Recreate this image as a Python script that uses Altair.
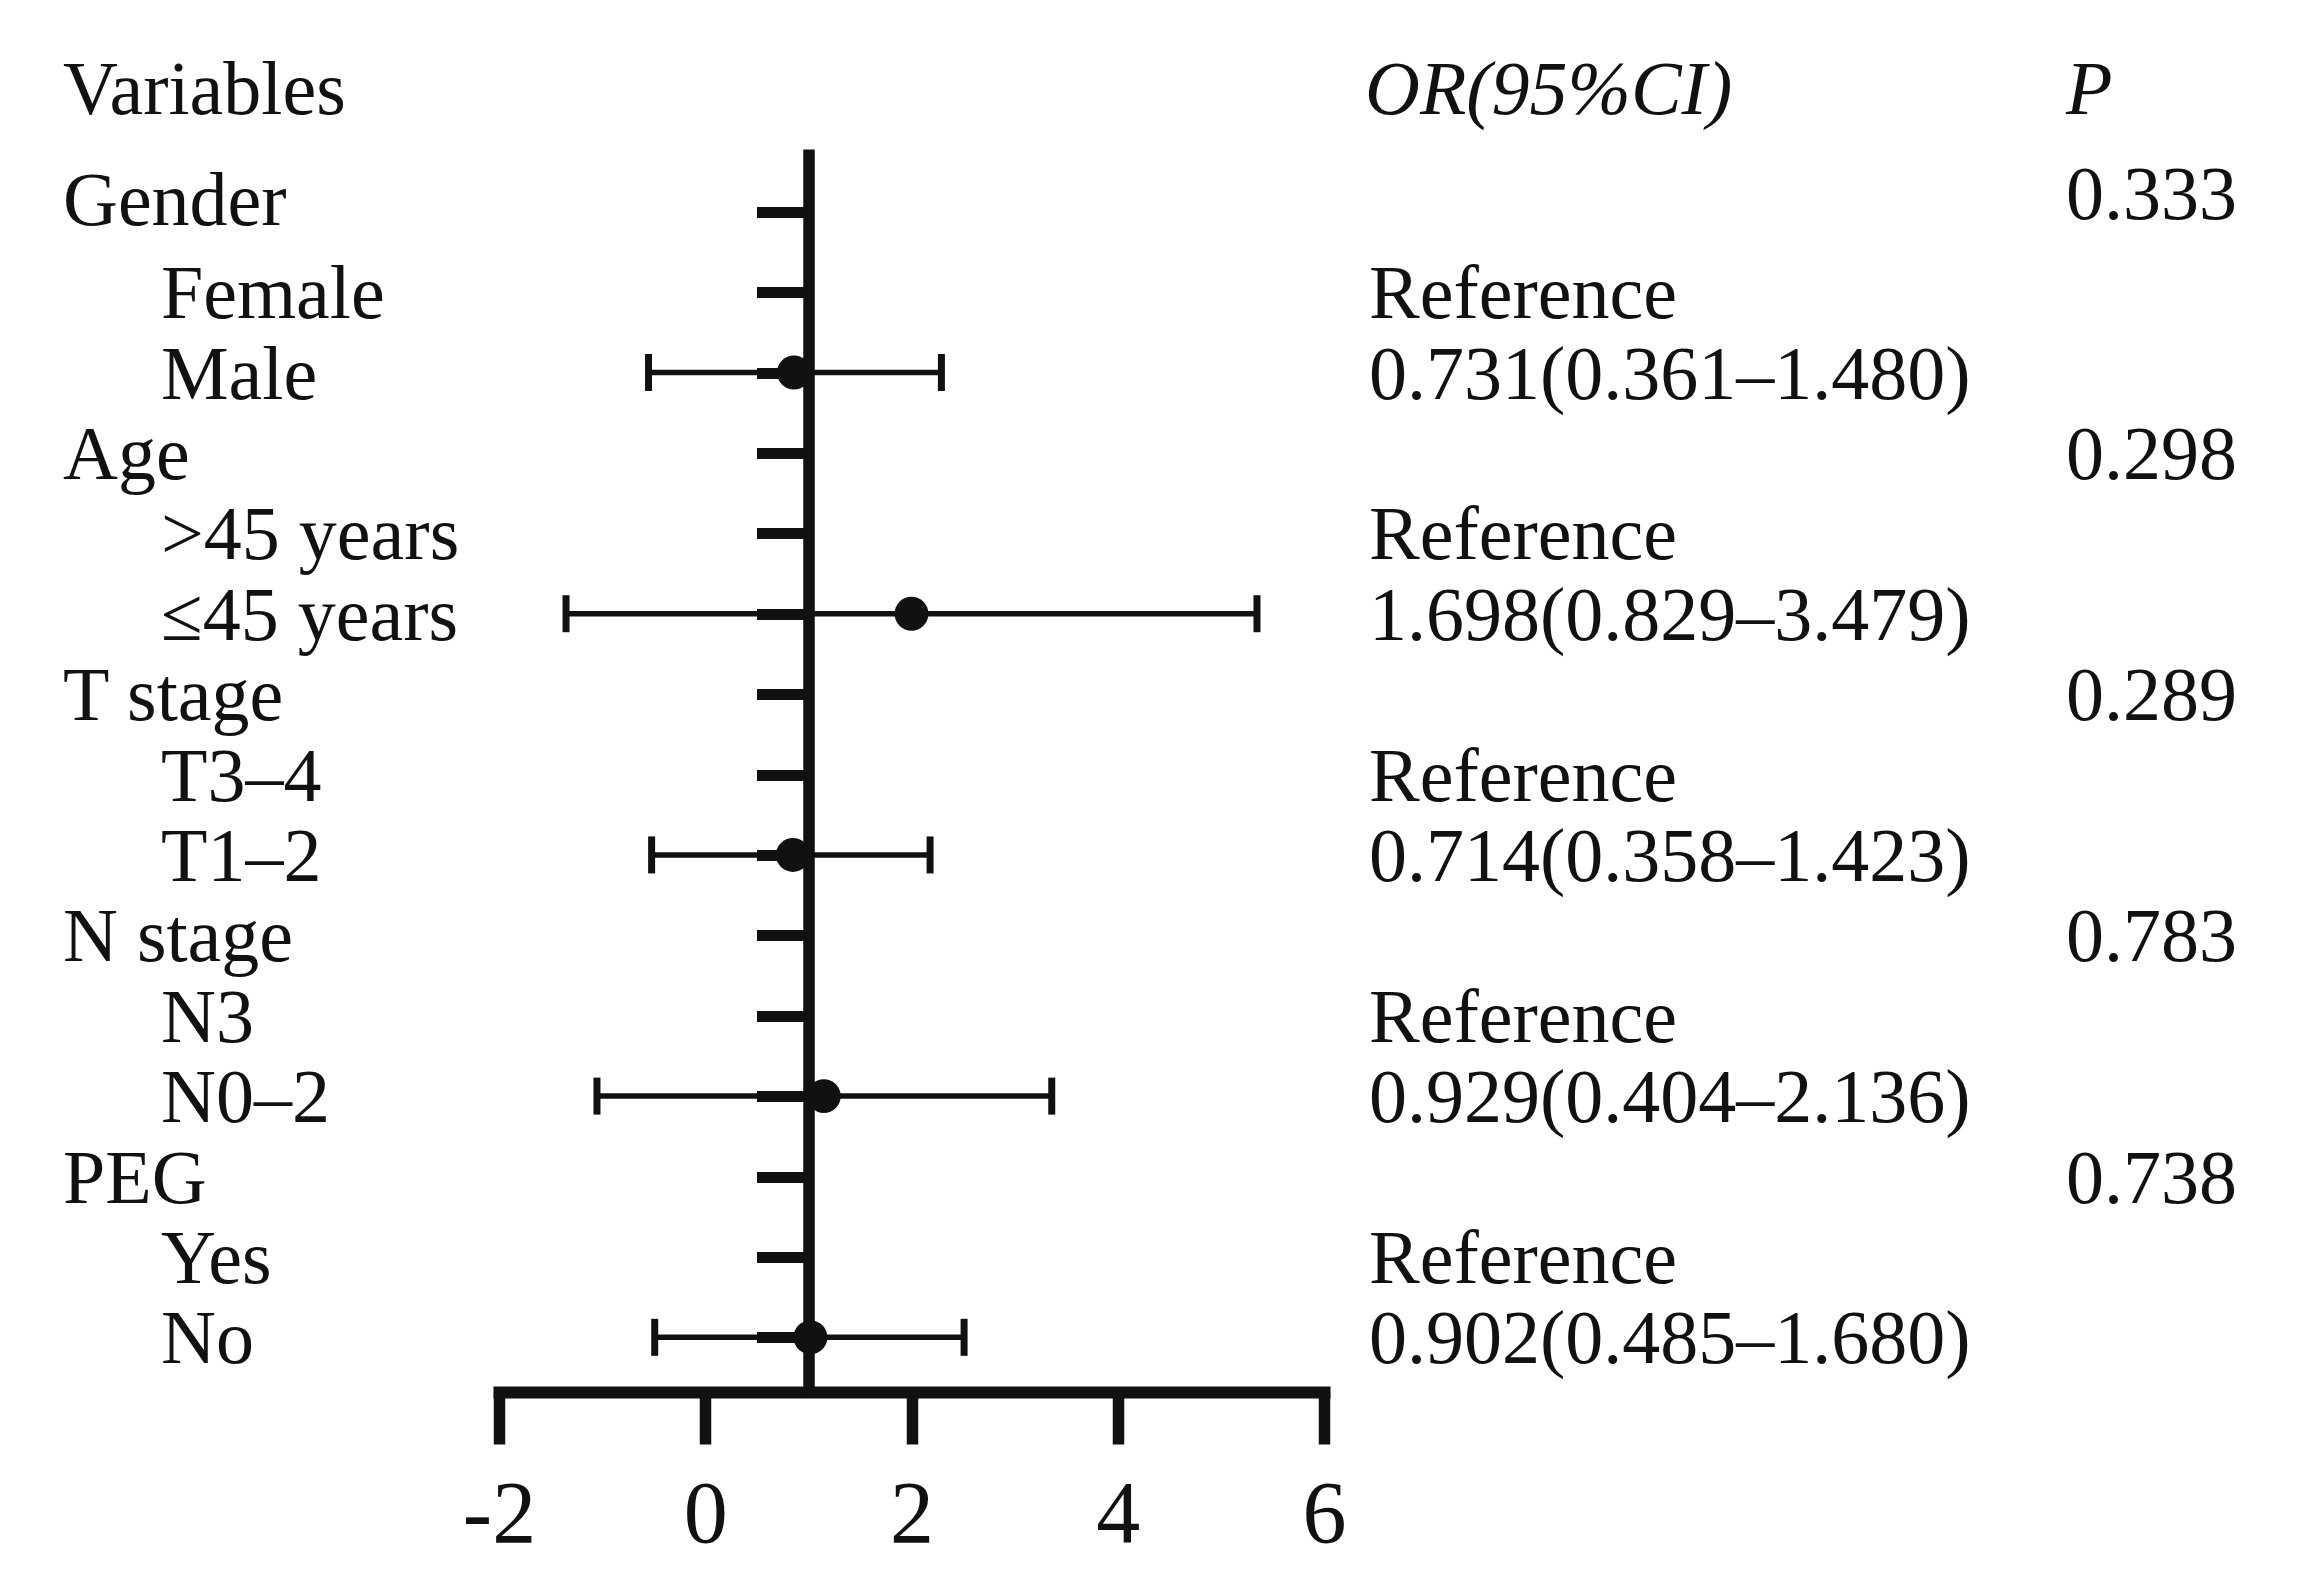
import altair as alt
import pandas as pd

# ---- data ----
labels = ["Gender", "Female", "Male", "Age", ">45 years", "\u226445 years",
          "T stage", "T3\u20134", "T1\u20132", "N stage", "N3", "N0\u20132",
          "PEG", "Yes", "No"]
indent = [0, 1, 1, 0, 1, 1, 0, 1, 1, 0, 1, 1, 0, 1, 1]
or_text = ["", "Reference", "0.731(0.361\u20131.480)",
           "", "Reference", "1.698(0.829\u20133.479)",
           "", "Reference", "0.714(0.358\u20131.423)",
           "", "Reference", "0.929(0.404\u20132.136)",
           "", "Reference", "0.902(0.485\u20131.680)"]
p_text = ["0.333", "", "", "0.298", "", "", "0.289", "", "",
          "0.783", "", "", "0.738", "", ""]

est_rows = [2, 5, 8, 11, 14]
est = [0.86, 2.00, 0.85, 1.15, 1.02]
low = [-0.55, -1.35, -0.52, -1.05, -0.49]
high = [2.29, 5.35, 2.18, 3.36, 2.51]

x_ticks = [-2, 0, 2, 4, 6]

rows = pd.DataFrame({
    "row": list(range(len(labels))),
    "label": labels,
    "indent": indent,
    "or_text": or_text,
    "p_text": p_text,
})
pts = pd.DataFrame({"row": est_rows, "est": est, "low": low, "high": high})

FONT = "Liberation Serif"
INK = "#111111"
FS = 76

xscale = alt.Scale(domain=[-2, 6], nice=False, zero=False)
yscale = alt.Scale(domain=[-0.78, 14.68], nice=False, zero=False, reverse=True)

x_axis = alt.Axis(values=x_ticks, grid=False, title=None,
                  domainWidth=12, domainColor=INK, domainCap="square",
                  tickColor=INK, tickWidth=11.5, tickSize=52,
                  labelFont=FONT, labelFontSize=88, labelColor=INK,
                  labelFlush=False, labelOverlap=False,
                  labelPadding=27, labelExpr="'' + datum.value")
y_axis = alt.Axis(values=list(range(len(labels))), grid=False, title=None,
                  labels=False, domainWidth=11.5, domainColor=INK,
                  tickColor=INK, tickWidth=11, tickSize=52, offset=-309.5)

base_pts = alt.Chart(pts)

ci = base_pts.mark_rule(color=INK, strokeWidth=5.5).encode(
    x=alt.X("low:Q", scale=xscale, axis=x_axis),
    x2="high:Q",
    y=alt.Y("row:Q", scale=yscale, axis=y_axis),
)
cap_lo = base_pts.mark_rule(color=INK, strokeWidth=7, yOffset=-18.5, y2Offset=18.5).encode(
    x=alt.X("low:Q", scale=xscale), y=alt.Y("row:Q", scale=yscale), y2="row:Q")
cap_hi = base_pts.mark_rule(color=INK, strokeWidth=7, yOffset=-18.5, y2Offset=18.5).encode(
    x=alt.X("high:Q", scale=xscale), y=alt.Y("row:Q", scale=yscale), y2="row:Q")
dots = base_pts.mark_circle(color=INK, opacity=1, size=1150).encode(
    x=alt.X("est:Q", scale=xscale), y=alt.Y("row:Q", scale=yscale))

base_rows = alt.Chart(rows)


def txt(dy):
    return dict(font=FONT, fontSize=FS, color=INK, baseline="middle", align="left", dy=dy)


first = "datum.row == 0"
rest = "datum.row > 0"

grp0 = base_rows.transform_filter("datum.indent == 0 && " + first).mark_text(**txt(-10)).encode(
    x=alt.value(-436), y=alt.Y("row:Q", scale=yscale), text="label:N")
grp = base_rows.transform_filter("datum.indent == 0 && " + rest).mark_text(**txt(3)).encode(
    x=alt.value(-436), y=alt.Y("row:Q", scale=yscale), text="label:N")
sub = base_rows.transform_filter("datum.indent == 1").mark_text(**txt(3)).encode(
    x=alt.value(-338), y=alt.Y("row:Q", scale=yscale), text="label:N")
ort = base_rows.transform_filter("datum.or_text != ''").mark_text(**txt(3)).encode(
    x=alt.value(870), y=alt.Y("row:Q", scale=yscale), text="or_text:N")
pvt0 = base_rows.transform_filter("datum.p_text != '' && " + first).mark_text(**txt(-16)).encode(
    x=alt.value(1567), y=alt.Y("row:Q", scale=yscale), text="p_text:N")
pvt = base_rows.transform_filter("datum.p_text != '' && " + rest).mark_text(**txt(3)).encode(
    x=alt.value(1567), y=alt.Y("row:Q", scale=yscale), text="p_text:N")

h1 = alt.Chart(pd.DataFrame({"t": ["Variables"]})).mark_text(
    font=FONT, fontSize=FS, color=INK, baseline="middle", align="left").encode(
    x=alt.value(-436), y=alt.value(-58), text="t:N")
h2 = alt.Chart(pd.DataFrame({"t": ["OR(95%CI)"]})).mark_text(
    font=FONT, fontSize=FS, color=INK, baseline="middle", align="left",
    fontStyle="italic").encode(x=alt.value(866), y=alt.value(-58), text="t:N")
h3 = alt.Chart(pd.DataFrame({"t": ["P"]})).mark_text(
    font=FONT, fontSize=FS, color=INK, baseline="middle", align="left",
    fontStyle="italic").encode(x=alt.value(1567), y=alt.value(-58), text="t:N")

chart = alt.layer(ci, cap_lo, cap_hi, dots, grp0, grp, sub, ort, pvt0, pvt,
                  h1, h2, h3).properties(
    width=825, height=1243,
    autosize=alt.AutoSizeParams(type="none"),
    padding={"left": 491, "top": 141, "right": 965, "bottom": 185},
    background="white",
).configure_view(stroke=None)

chart.save("out.html", embed_options={"renderer": "svg", "actions": False})
